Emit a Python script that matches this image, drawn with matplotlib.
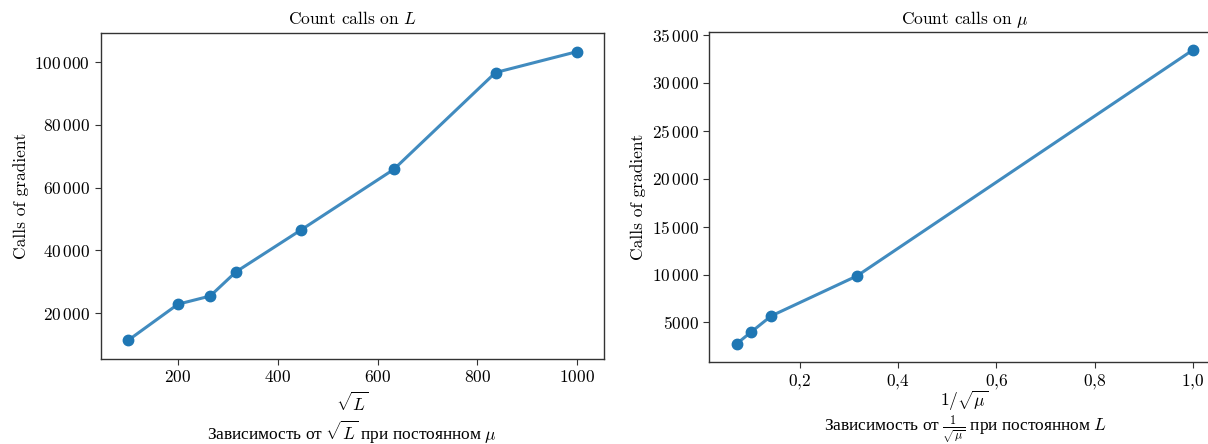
import matplotlib
matplotlib.use("Agg")
import matplotlib.pyplot as plt
from matplotlib.ticker import FuncFormatter, MultipleLocator
import numpy as np

plt.rcParams['font.family'] = ['cmr10', 'Liberation Serif']
plt.rcParams['mathtext.fontset'] = 'cm'
plt.rcParams['axes.unicode_minus'] = False
plt.rcParams['font.size'] = 12.5

# L values and gradient calls at fixed mu
L_values = [1e4, 4e4, 7e4, 1e5, 2e5, 4e5, 7e5, 1e6]
calls_L = [11400, 22900, 25500, 33200, 46600, 65800, 96650, 103300]

# mu values and gradient calls at fixed L
mu_values = [200, 100, 50, 10, 1]
calls_mu = [2760, 3980, 5680, 9860, 33430]

sqrt_L = np.sqrt(L_values)
inv_sqrt_mu = 1 / np.sqrt(mu_values)

blue = '#1f77b4'


def int_fmt(v, pos):
    v = int(round(v))
    if v >= 10000:
        return '$' + f'{v:,}'.replace(',', r'\,') + '$'
    return f'${v}$'


def dec_fmt(v, pos):
    return '$' + f'{v:.1f}'.replace('.', '{,}') + '$'


W, H = 1208, 444
fig = plt.figure(figsize=(W / 100, H / 100), dpi=100)

ax1 = fig.add_axes([100.7 / W, 1 - 359 / H, 503 / W, 326.3 / H])
ax2 = fig.add_axes([709.3 / W, 1 - 362.3 / H, 510.5 / W, 330.3 / H])

for ax, x, y in [(ax1, sqrt_L, calls_L), (ax2, inv_sqrt_mu, calls_mu)]:
    ax.plot(x, y, color=blue, lw=2.2, alpha=0.85, zorder=2)
    ax.plot(x, y, 'o', color=blue, ms=7.5, zorder=3)
    ax.yaxis.set_major_formatter(FuncFormatter(int_fmt))
    ax.set_ylabel('Calls of gradient', labelpad=4)
    for s in ax.spines.values():
        s.set_color('#333333')
        s.set_linewidth(1.0)
    ax.tick_params(length=4, width=0.8, color='#333333')

ax1.set_xlim(45, 1053.5)
ax1.set_ylim(5450, 109330)
ax1.xaxis.set_major_locator(MultipleLocator(200))
ax1.xaxis.set_major_formatter(FuncFormatter(lambda v, p: f'${int(v)}$'))
ax1.set_title('Count calls on $L$', fontsize=12.5)
ax1.set_xlabel(r'$\sqrt{L}$', labelpad=4)

ax2.set_xlim(0.0153, 1.055)
ax2.set_ylim(840, 35315)
ax2.xaxis.set_major_locator(MultipleLocator(0.2))
ax2.xaxis.set_major_formatter(FuncFormatter(dec_fmt))
ax2.set_title(r'Count calls on $\mu$', fontsize=12.5)
ax2.set_xlabel(r'$1/\sqrt{\mu}$', labelpad=-2)

# captions under each panel; Cyrillic needs a font that has it
cap_font = ['Liberation Serif', 'DejaVu Serif']
fig.text(352 / W, 1 - 432 / H, r'Зависимость от $\sqrt{L}$ при постоянном $\mu$',
         ha='center', va='center', family=cap_font)
fig.text(966 / W, 1 - 429 / H, r'Зависимость от $\frac{1}{\sqrt{\mu}}$ при постоянном $L$',
         ha='center', va='center', family=cap_font)

fig.savefig('out.png', dpi=100)
